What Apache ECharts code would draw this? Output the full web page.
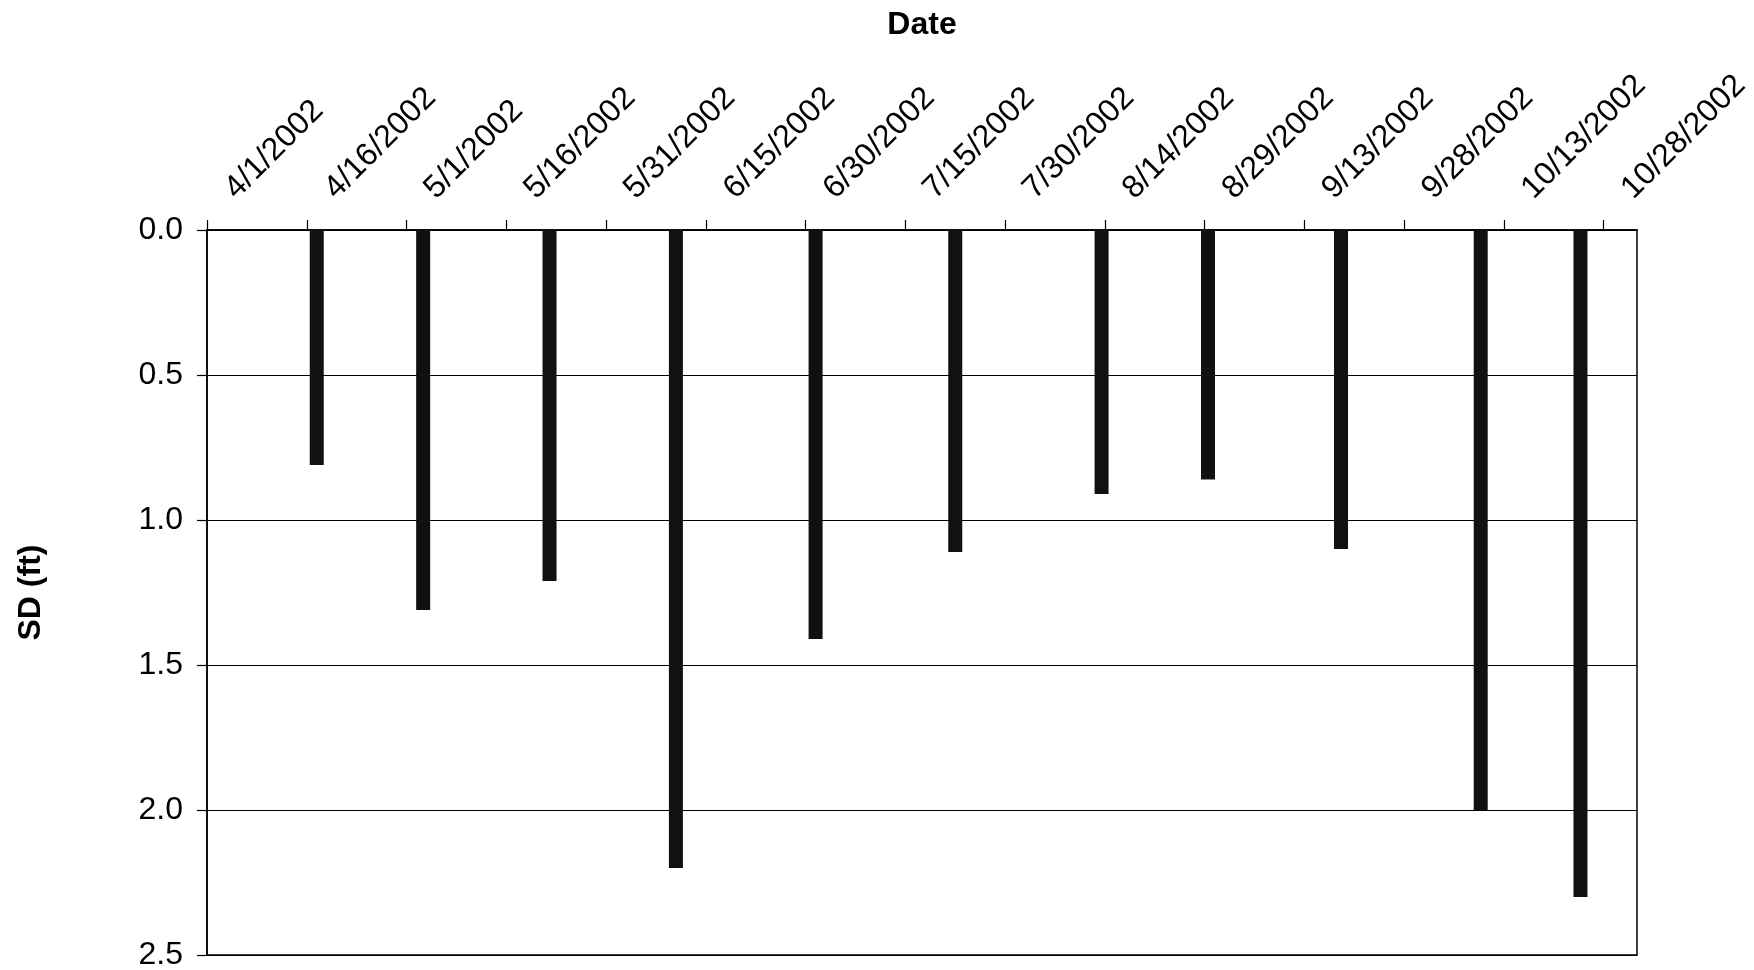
<!DOCTYPE html>
<html>
<head>
<meta charset="utf-8">
<script src="https://cdn.jsdelivr.net/npm/echarts@6/dist/echarts.min.js"></script>
<style>
  html, body { margin: 0; padding: 0; background: #fff; }
  #chart { width: 1754px; height: 970px; }
</style>
</head>
<body>
<div id="chart"></div>
<script>
// ---- data ----
const sampleDates = ['2002-04-17', '2002-05-03', '2002-05-22', '2002-06-10', '2002-07-01', '2002-07-22',
                     '2002-08-13', '2002-08-29', '2002-09-18', '2002-10-09', '2002-10-24'];
const sdValues = [0.81, 1.31, 1.21, 2.2, 1.41, 1.11, 0.91, 0.86, 1.1, 2.0, 2.3];
const axisStartDate = '2002-04-01';
const axisEndDate = '2002-11-02';
const tickStepDays = 15;
const yMin = 0, yMax = 2.5, yStep = 0.5;
const xTitle = 'Date';
const yTitle = 'SD (ft)';

const DAY = 86400000;
const xMin = Date.parse(axisStartDate);
const xMax = Date.parse(axisEndDate);
// Excel date axis puts each day's column in the middle of that day's slot
const seriesData = sampleDates.map((d, i) => [Date.parse(d) + DAY / 2, sdValues[i]]);

function fmtDate(v) {
  const d = new Date(v);
  return (d.getUTCMonth() + 1) + '/' + d.getUTCDate() + '/' + d.getUTCFullYear();
}

const font = 'Liberation Sans, Arial, sans-serif';
const chart = echarts.init(document.getElementById('chart'));
chart.setOption({
  backgroundColor: '#fff',
  animation: false,
  grid: {
    left: 207, right: 117, top: 230, bottom: 15,
    outerBoundsMode: 'none', containLabel: false,
    show: true, borderColor: '#000', borderWidth: 1.5
  },
  xAxis: {
    type: 'value',
    position: 'top',
    min: xMin, max: xMax, interval: tickStepDays * DAY,
    name: xTitle, nameLocation: 'middle', nameGap: 189,
    nameTextStyle: { fontFamily: font, fontSize: 32, fontWeight: 'bold', color: '#000' },
    axisLine: { show: true, lineStyle: { color: '#000', width: 1.5 } },
    axisTick: { show: true, length: 10, lineStyle: { color: '#000', width: 1.2 } },
    splitLine: { show: false },
    axisLabel: {
      rotate: 45, margin: 13, padding: [0, 0, 0, 33],
      fontFamily: font, fontSize: 32, color: '#000',
      showMaxLabel: false,
      formatter: v => (Math.round(v - xMin) % (tickStepDays * DAY) === 0 ? fmtDate(v) : '')
    }
  },
  yAxis: {
    type: 'value', inverse: true,
    min: yMin, max: yMax, interval: yStep,
    name: yTitle, nameLocation: 'middle', nameGap: 160,
    nameTextStyle: { fontFamily: font, fontSize: 32, fontWeight: 'bold', color: '#000' },
    axisLine: { show: true, lineStyle: { color: '#000', width: 1.5 } },
    axisTick: { show: true, length: 10, lineStyle: { color: '#000', width: 1.2 } },
    splitLine: { show: true, lineStyle: { color: '#000', width: 1.2 } },
    axisLabel: { margin: 24, fontFamily: font, fontSize: 32, color: '#000', formatter: v => v.toFixed(1) }
  },
  series: [{
    type: 'bar',
    data: seriesData,
    barWidth: 14,
    itemStyle: { color: '#111' }
  }]
});
</script>
</body>
</html>
